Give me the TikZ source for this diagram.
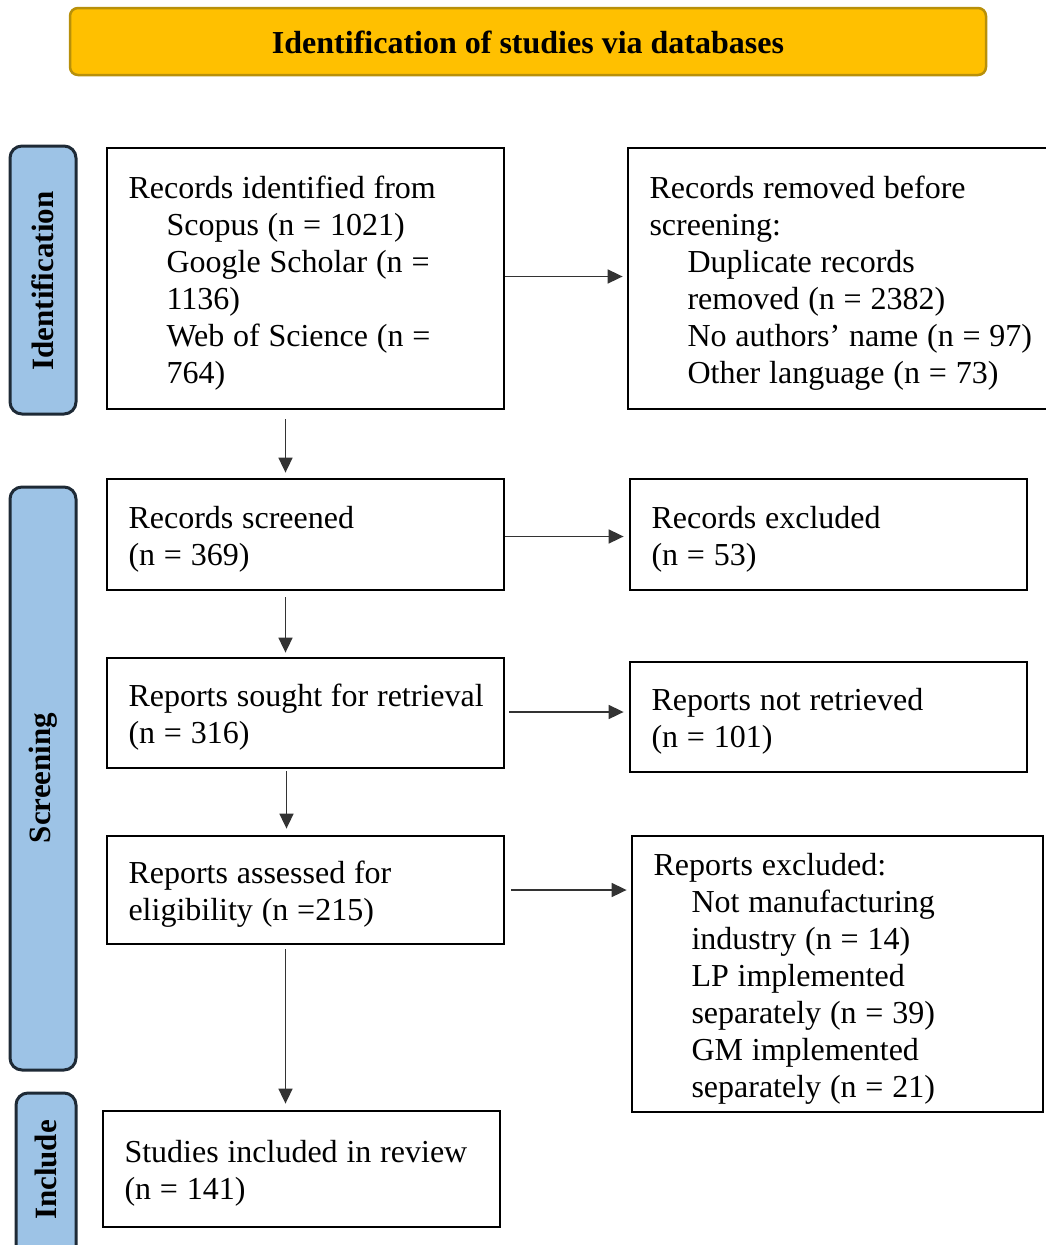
\documentclass[tikz,border=0pt]{standalone}
\usepackage{fontspec}
\setmainfont{Liberation Serif}
\usetikzlibrary{arrows.meta,calc}
\definecolor{headfill}{HTML}{FFC000}
\definecolor{headline}{HTML}{B8900A}
\definecolor{phasefill}{HTML}{9DC3E6}
\definecolor{phaseline}{HTML}{1E2A36}
\newcommand{\ind}{\hspace*{38pt}}
% fixed, unbroken lines of box text, set a little below the box centre, with tighter word spaces
\newcommand{\boxlines}[1]{\spaceskip=8.8pt\relax\raisebox{-5pt}[\height][\depth]{\begin{tabular}[c]{@{}l@{}}#1\end{tabular}}}
\begin{document}
\begin{tikzpicture}[x=1pt,y=-1pt,
  flowbox/.style={draw=black, line width=2.8pt, rectangle, inner xsep=21.5pt, inner ysep=0pt,
    align=left, font=\fontsize{32}{37}\selectfont, anchor=center},
  phase/.style={draw=phaseline, fill=phasefill, line width=3pt, rounded corners=12pt},
  phasetext/.style={rotate=90, font=\bfseries\fontsize{31}{36}\selectfont},
  arr/.style={draw=black!80, line width=1.7pt, -{Triangle[length=15pt,width=14pt]}}]
\useasboundingbox (0,0) rectangle (1045,1245);

% header banner
\draw[draw=headline, fill=headfill, line width=2.5pt, rounded corners=8pt] (70,8) rectangle (986,75);
\node[font=\bfseries\fontsize{32}{36}\selectfont] (head) at (528,42) {Identification of studies via databases};

% phase bars on the left
\draw[phase] (10,146) rectangle (76,414);
\node[phasetext] (pid) at (43,281) {Identification};
\draw[phase] (10,487) rectangle (76,1070);
\node[phasetext] (psc) at (43,778) {Screening};
\draw[phase] (16,1093) rectangle (76,1262);
\node[phasetext] (pin) at (46,1170) {Include};

% main column
\node[flowbox, minimum width=397pt, minimum height=261pt, text width=354pt] (b1) at (305.5,278.5)
 {\boxlines{Records identified from\\ \ind Scopus (n = 1021)\\ \ind Google Scholar (n =\\ \ind 1136)\\ \ind Web of Science (n =\\ \ind 764)}};
\node[flowbox, minimum width=397pt, minimum height=111pt, text width=354pt] (b3) at (305.5,534.5)
 {\boxlines{Records screened\\ (n = 369)}};
\node[flowbox, minimum width=397pt, minimum height=110pt, text width=354pt] (b5) at (305.5,713)
 {\boxlines{Reports sought for retrieval\\ (n = 316)}};
\node[flowbox, minimum width=397pt, minimum height=108pt, text width=354pt] (b7) at (305.5,890)
 {\boxlines{Reports assessed for\\ eligibility (n =215)}};
\node[flowbox, minimum width=397pt, minimum height=116pt, text width=354pt] (b9) at (301.5,1169)
 {\boxlines{Studies included in review\\ (n = 141)}};

% side column
\node[flowbox, minimum width=420pt, minimum height=261pt, text width=377pt] (b2) at (838,278.5)
 {\boxlines{Records removed before\\ screening:\\ \ind Duplicate records\\ \ind removed (n = 2382)\\ \ind No authors’ name (n = 97)\\ \ind Other language (n = 73)}};
\node[flowbox, minimum width=397pt, minimum height=111pt, text width=354pt] (b4) at (828.5,534.5)
 {\boxlines{Records excluded\\ (n = 53)}};
\node[flowbox, minimum width=397pt, minimum height=110pt, text width=354pt] (b6) at (828.5,717)
 {\boxlines{Reports not retrieved\\ (n = 101)}};
\node[flowbox, minimum width=411pt, minimum height=276pt, text width=368pt] (b8) at (837.5,974)
 {\boxlines{Reports excluded:\\ \ind Not manufacturing\\ \ind industry (n = 14)\\ \ind LP implemented\\ \ind separately (n = 39)\\ \ind GM implemented\\ \ind separately (n = 21)}};

% horizontal connectors
\draw[arr, shorten >=4pt] ([yshift=2pt]b1.east) -- ([yshift=2pt]b1.east -| b2.west);
\draw[arr, shorten >=5pt] ([yshift=-2pt]b3.east) -- ([yshift=-2pt]b3.east -| b4.west);
\draw[arr, shorten <=4pt, shorten >=5pt] ([yshift=1pt]b5.east) -- ([yshift=1pt]b5.east -| b6.west);
\draw[arr, shorten <=6pt, shorten >=4pt] (b7.east) -- (b7.east -| b8.west);

% vertical connectors
\draw[arr, shorten <=9pt, shorten >=5pt] ([xshift=-20pt]b1.south) -- ([xshift=-20pt]b3.north);
\draw[arr, shorten <=6pt, shorten >=4pt] ([xshift=-20pt]b3.south) -- ([xshift=-20pt]b5.north);
\draw[arr, shorten <=2pt, shorten >=6pt] ([xshift=-19pt]b5.south) -- ([xshift=-19pt]b7.north);
\draw[arr, shorten <=4pt, shorten >=6pt] ([xshift=-20pt]b7.south) -- ([xshift=-20pt]b7.south |- b9.north);
\end{tikzpicture}
\end{document}
